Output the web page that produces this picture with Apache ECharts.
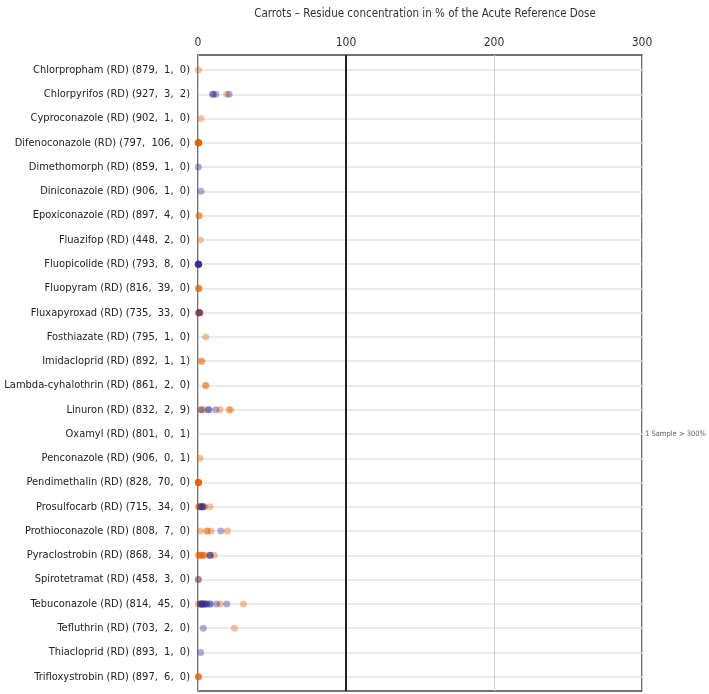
<!DOCTYPE html>
<html>
<head>
<meta charset="utf-8">
<script src="https://cdn.jsdelivr.net/npm/echarts@6/dist/echarts.min.js"></script>
<style>
html,body{margin:0;padding:0;background:#fff;}
#chart{width:709px;height:694px;}
</style>
</head>
<body>
<div id="chart"></div>
<script>
var titleText = 'Carrots \u2013 Residue concentration in % of the Acute Reference Dose';
var categories = [
  'Chlorpropham (RD) (879,  1,  0)',
  'Chlorpyrifos (RD) (927,  3,  2)',
  'Cyproconazole (RD) (902,  1,  0)',
  'Difenoconazole (RD) (797,  106,  0)',
  'Dimethomorph (RD) (859,  1,  0)',
  'Diniconazole (RD) (906,  1,  0)',
  'Epoxiconazole (RD) (897,  4,  0)',
  'Fluazifop (RD) (448,  2,  0)',
  'Fluopicolide (RD) (793,  8,  0)',
  'Fluopyram (RD) (816,  39,  0)',
  'Fluxapyroxad (RD) (735,  33,  0)',
  'Fosthiazate (RD) (795,  1,  0)',
  'Imidacloprid (RD) (892,  1,  1)',
  'Lambda-cyhalothrin (RD) (861,  2,  0)',
  'Linuron (RD) (832,  2,  9)',
  'Oxamyl (RD) (801,  0,  1)',
  'Penconazole (RD) (906,  0,  1)',
  'Pendimethalin (RD) (828,  70,  0)',
  'Prosulfocarb (RD) (715,  34,  0)',
  'Prothioconazole (RD) (808,  7,  0)',
  'Pyraclostrobin (RD) (868,  34,  0)',
  'Spirotetramat (RD) (458,  3,  0)',
  'Tebuconazole (RD) (814,  45,  0)',
  'Tefluthrin (RD) (703,  2,  0)',
  'Thiacloprid (RD) (893,  1,  0)',
  'Trifloxystrobin (RD) (897,  6,  0)'
];
// % ARfD values per category (orange group)
var orangeValues = [
  [0.3],
  [19.3],
  [2.0],
  [0.1, 0.2, 0.3, 0.3, 0.4, 0.5, 0.6, 0.2],
  [],
  [],
  [0.6, 0.8],
  [1.5],
  [0.3],
  [0.3, 0.5, 0.7],
  [0.3, 0.6, 0.9, 1.2, 1.5],
  [5.2],
  [1.9, 2.8],
  [5.0, 5.4],
  [2.0, 3.6, 14.9, 21.0, 22.0],
  [],
  [1.4],
  [0.1, 0.2, 0.3, 0.4, 0.5, 0.3],
  [0.2, 0.8, 1.5, 2.5, 3.5, 4.5, 8.0],
  [1.4, 5.8, 6.5, 8.8, 19.8],
  [0.2, 0.8, 1.5, 2.2, 3.0, 3.8, 4.7, 8.1, 11.0],
  [0.2],
  [0.1, 1.5, 3.0, 4.5, 15.0, 30.7],
  [24.6],
  [],
  [0.2, 0.4, 0.3]
];
// % ARfD values per category (purple group)
var purpleValues = [
  [],
  [9.8, 10.4, 12.0, 21.0],
  [],
  [],
  [0.2],
  [2.0],
  [],
  [],
  [0.1, 0.2, 0.3, 0.4, 0.5, 0.3],
  [],
  [0.5, 1.0],
  [],
  [],
  [],
  [2.2, 6.9, 7.4, 12.0],
  [],
  [],
  [],
  [1.5, 2.5, 3.0, 3.5],
  [15.4],
  [8.1, 8.3],
  [0.2],
  [1.5, 2.0, 2.5, 3.0, 3.5, 4.5, 5.5, 5.9, 8.0, 8.3, 12.6, 19.4],
  [3.6],
  [1.8],
  []
];
var xTicks = [0, 100, 200, 300];
var referenceLine = 100;
var overflowCategory = 'Oxamyl (RD) (801,  0,  1)';
var overflowText = '1 Sample > 300%';

var rowIndex = categories.map(function (c, i) { return i; });
function buildData(vals) {
  var out = [];
  for (var i = 0; i < vals.length; i++) {
    for (var j = 0; j < vals[i].length; j++) out.push([vals[i][j], i]);
  }
  return out;
}

var chart = echarts.init(document.getElementById('chart'), null, {renderer: 'canvas'});
var FONT = '"DejaVu Sans Condensed", "Liberation Sans", sans-serif';
chart.setOption({
  animation: false,
  backgroundColor: '#fff',
  title: {
    text: titleText,
    left: 420, top: 3, textAlign: 'center',
    textStyle: {fontFamily: FONT, fontSize: 11.5, fontWeight: 'normal', color: '#333'}
  },
  grid: {left: 198, right: 67, top: 55, bottom: 3, show: true, borderColor: '#444', borderWidth: 1.5, backgroundColor: 'transparent', outerBoundsMode: 'none', containLabel: false},
  xAxis: {
    type: 'value', position: 'top', min: xTicks[0], max: xTicks[xTicks.length - 1], interval: 100,
    axisLine: {show: false}, axisTick: {show: false},
    axisLabel: {fontFamily: FONT, fontSize: 12, color: '#333', margin: 6},
    splitLine: {show: true, lineStyle: {color: '#cfcfcf', width: 1}}
  },
  yAxis: {
    type: 'value', inverse: true, min: -0.62, max: 25.59,
    axisLine: {show: false},
    axisTick: {show: false, customValues: rowIndex},
    axisLabel: {
      customValues: rowIndex, showMinLabel: true, showMaxLabel: true,
      formatter: function (v) { return categories[Math.round(v)]; },
      fontFamily: FONT, fontSize: 11, color: '#222', margin: 8
    },
    splitLine: {show: true, lineStyle: {color: '#e3e3e3', width: 1.5}}
  },
  series: [
    {
      type: 'scatter', name: 'orange', data: buildData(orangeValues),
      symbolSize: 7, itemStyle: {color: '#e36200', opacity: 0.38},
      markLine: {
        silent: true, symbol: 'none', label: {show: false},
        lineStyle: {color: '#222', width: 2, type: 'solid'},
        data: [{xAxis: referenceLine}]
      }
    },
    {
      type: 'scatter', name: 'purple', data: buildData(purpleValues),
      symbolSize: 7, itemStyle: {color: '#2a2a95', opacity: 0.38}
    },
    {
      type: 'scatter', name: 'overflow', data: [[xTicks[xTicks.length - 1], categories.indexOf(overflowCategory)]],
      symbolSize: 0, silent: true,
      label: {show: true, position: 'right', distance: 3, formatter: overflowText, fontFamily: FONT, fontSize: 7.5, color: '#333'}
    }
  ]
});
</script>
</body>
</html>
